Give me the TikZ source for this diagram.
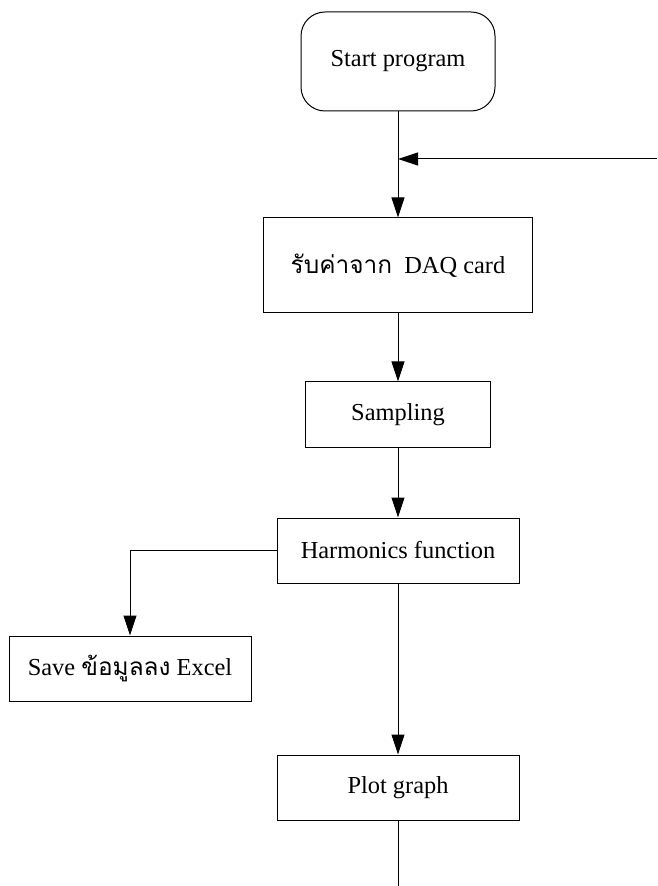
\documentclass[tikz,border=0pt]{standalone}
\usepackage{fontspec}
\setmainfont{Liberation Serif}
\newfontfamily\thaifont[Script=Thai]{Loma}
\usetikzlibrary{positioning,arrows.meta}

\tikzset{
    proc/.style={draw, rectangle, minimum width=121pt, minimum height=32.5pt, inner sep=2pt},
    term/.style={draw, rectangle, rounded corners=12pt, minimum width=97pt, minimum height=49.5pt}
}

\begin{document}
\begin{tikzpicture}[node distance=2cm, line width=0.5pt, >={Triangle[length=10pt,width=6.5pt]},
    font=\fontsize{12.2}{14}\selectfont]
    \useasboundingbox (0,0) rectangle (328.5pt,-443pt);
    \node[term] (start) at (199pt,-30.75pt) {Start program};
    \node[proc, below of=start, node distance=102pt, minimum width=134.5pt, minimum height=47.5pt] (daq) {{\thaifont รับค่าจาก}\ \ DAQ card};
    \node[proc, below of=daq, node distance=74.5pt, minimum width=92.5pt] (samp) {Sampling};
    \node[proc, below of=samp, node distance=68pt] (harm) {Harmonics function};
    \node[proc, below of=harm, node distance=59pt, xshift=-134pt] (save) {Save {\thaifont ข้อมูลลง} Excel};
    \node[proc, below of=harm, node distance=118.5pt] (plot) {Plot graph};
    \coordinate (back) at (328.5pt,-79.5pt);
    \coordinate (out) at (199pt,-443pt);

    % Main flow
    \draw[->] (start) -- (daq);
    \draw[->] (back) -- (start |- back);
    \draw[->] (daq) -- (samp);
    \draw[->] (samp) -- (harm);
    \draw[->] (harm) -- (plot);
    \draw[->] (harm.west) -| (save.north);
    \draw (plot) -- (out);
\end{tikzpicture}
\end{document}
